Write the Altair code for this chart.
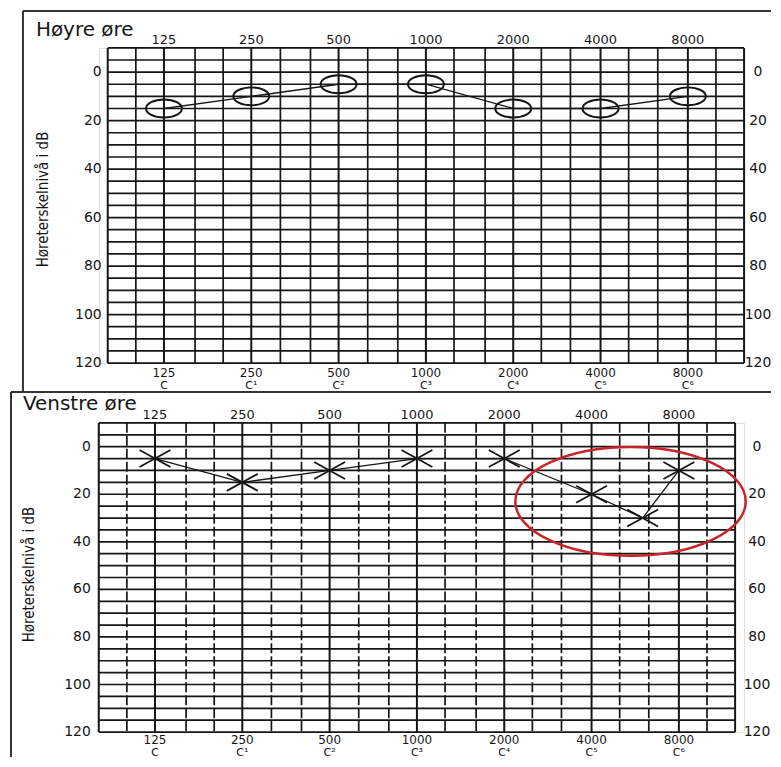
import altair as alt
import pandas as pd

# ---------------- data ----------------
freq_labels = [125, 250, 500, 1000, 2000, 4000, 8000]
freq_text = ["125", "250", "500", "1000", "2000", "4000", "8000"]
note_text = ["C", "C¹", "C²", "C³", "C⁴", "C⁵", "C⁶"]
edge_freqs = [80, 12500]
minor_freqs = [100, 160, 200, 315, 400, 630, 800, 1250, 1600, 2500, 3150, 5000, 6300, 10000]
db_lines = [-10, -5, 0, 5, 10, 15, 20, 25, 30, 35, 40, 45, 50, 55, 60, 65, 70, 75, 80,
            85, 90, 95, 100, 105, 110, 115, 120]
db_labels = [0, 20, 40, 60, 80, 100, 120]

right_freq = [125, 250, 500, 1000, 2000, 4000, 8000]
right_db = [15, 10, 5, 5, 15, 15, 10]

left_freq = [125, 250, 500, 1000, 2000, 4000, 6000, 8000]
left_db = [5, 15, 10, 5, 5, 20, 30, 10]

highlight_freq = [5450]
highlight_db = [23]

INK = "#161616"
NUM_FONT = "DejaVu Sans"
NARROW = "Liberation Sans Narrow, DejaVu Sans Condensed, Liberation Sans, sans-serif"

CIRCLE = "M -1 0 A 1 0.5 0 1 1 1 0 A 1 0.5 0 1 1 -1 0 Z"
XMARK = "M -1 -0.55 L 1 0.55 M -1 0.55 L 1 -0.55"
ELLIPSE = "M -1 0 A 1 0.472 0 1 1 1 0 A 1 0.472 0 1 1 -1 0 Z"

one = alt.Data(values=[{"a": 1}])


def panel(title, freqs, dbs, shape, msize, mwidth, x_range, W, H, pos, dashed, highlight):
    xs = alt.Scale(type="log", domain=[80, 12500], range=x_range)
    ys = alt.Scale(domain=[-10, 120], reverse=True)
    X = lambda f: alt.X(f, type="quantitative", scale=xs, axis=None)
    Y = lambda f: alt.Y(f, type="quantitative", scale=ys, axis=None)

    hdf = pd.DataFrame({"db": db_lines})
    hgrid = alt.Chart(hdf).mark_rule(color=INK, strokeWidth=1.7).encode(
        y=Y("db"),
        x=alt.X(datum=80, type="quantitative", scale=xs, axis=None),
        x2=alt.X2(datum=12500),
    )
    vsolid = alt.Chart(pd.DataFrame({"f": freq_labels + edge_freqs})).mark_rule(
        color=INK, strokeWidth=2).encode(
        x=X("f"),
        y=alt.Y(datum=-10, type="quantitative", scale=ys, axis=None),
        y2=alt.Y2(datum=120),
    )
    minor_kw = dict(color=INK, strokeWidth=1.7)
    if dashed:
        minor_kw["strokeDash"] = [10, 3]
    vminor = alt.Chart(pd.DataFrame({"f": minor_freqs})).mark_rule(**minor_kw).encode(
        x=X("f"),
        y=alt.Y(datum=-10, type="quantitative", scale=ys, axis=None),
        y2=alt.Y2(datum=120),
    )

    ddf = pd.DataFrame({"f": freqs, "db": dbs})
    line = alt.Chart(ddf).mark_line(color=INK, strokeWidth=1.3).encode(x=X("f"), y=Y("db"))
    marks = alt.Chart(ddf).mark_point(
        shape=shape, size=msize, filled=False, stroke=INK, strokeWidth=mwidth, opacity=1
    ).encode(x=X("f"), y=Y("db"))

    fdf = pd.DataFrame({"f": freq_labels, "t": freq_text, "n": note_text})
    top_lab = alt.Chart(fdf).mark_text(font=NUM_FONT, fontSize=13, color=INK, baseline="middle").encode(
        x=X("f"), y=alt.value(-8), text="t:N")
    bot_lab = alt.Chart(fdf).mark_text(font=NUM_FONT, fontSize=12, color=INK, baseline="middle").encode(
        x=X("f"), y=alt.value(H + pos["num_dy"]), text="t:N")
    note_lab = alt.Chart(fdf).mark_text(font=NUM_FONT, fontSize=11, color=INK, baseline="middle").encode(
        x=X("f"), y=alt.value(H + pos["note_dy"]), text="n:N")

    ldf = pd.DataFrame({"db": db_labels})
    left_lab = alt.Chart(ldf).mark_text(font=NUM_FONT, fontSize=14, color=INK, align="right",
                                        baseline="middle").encode(
        x=alt.value(pos["left_lab"]), y=Y("db"), text="db:Q")
    right_lab = alt.Chart(ldf).mark_text(font=NUM_FONT, fontSize=14, color=INK, align="center",
                                         baseline="middle").encode(
        x=alt.value(pos["right_lab"]), y=Y("db"), text="db:Q")

    ttl = alt.Chart(one).mark_text(text=title, font=NUM_FONT, fontSize=20, color=INK, align="left",
                                   baseline="middle").encode(
        x=alt.value(pos["title_x"]), y=alt.value(pos["title_y"]))
    ytl = alt.Chart(one).mark_text(text="Høreterskelnivå i dB", font=NARROW, fontSize=15, color=INK,
                                   angle=270, align="center", baseline="middle").encode(
        x=alt.value(pos["ytitle_x"]), y=alt.value(pos["ytitle_y"]))

    fx = pos["frame_x"]
    frame = [
        alt.Chart(one).mark_rule(color="#333", strokeWidth=2).encode(
            x=alt.value(fx), y=alt.value(pos["frame_top"]), y2=alt.value(pos["frame_bottom"])),
        alt.Chart(one).mark_rule(color="#333", strokeWidth=2).encode(
            x=alt.value(fx), x2=alt.value(pos["frame_right"]), y=alt.value(pos["frame_top"])),
    ]
    if pos.get("frame_close"):
        frame.append(alt.Chart(one).mark_rule(color="#444", strokeWidth=1.6).encode(
            x=alt.value(fx), x2=alt.value(pos["frame_right"]), y=alt.value(pos["frame_bottom"])))

    layers = [hgrid, vsolid, vminor, line, marks, top_lab, bot_lab, note_lab,
              left_lab, right_lab, ttl, ytl] + frame
    if highlight:
        hl = alt.Chart(pd.DataFrame({"f": highlight_freq, "db": highlight_db})).mark_point(
            shape=ELLIPSE, size=53361, filled=False, stroke="#c9232b", strokeWidth=2.5, opacity=1
        ).encode(x=X("f"), y=Y("db"))
        layers.append(hl)
    return alt.layer(*layers).properties(width=W, height=H)


W = 647
H1 = 316
H2 = 310
top = panel("Høyre øre", right_freq, right_db, CIRCLE, 1300, 2, [9, 647], W, H1,
            dict(left_lab=3, right_lab=661, title_x=-63, title_y=-18, ytitle_x=-56, ytitle_y=152,
                 num_dy=10, note_dy=23,
                 frame_x=-76, frame_top=-37, frame_bottom=H1 + 29, frame_right=674, frame_close=True),
            dashed=False, highlight=False)
bottom = panel("Venstre øre", left_freq, left_db, XMARK, 960, 1.8, [0, 638], W, H2,
               dict(left_lab=-8, right_lab=660, title_x=-76, title_y=-19, ytitle_x=-70, ytitle_y=152,
                    num_dy=8, note_dy=21,
                    frame_x=-88, frame_top=-31, frame_bottom=H2 + 25, frame_right=674),
               dashed=True, highlight=True)

chart = alt.vconcat(top, bottom, spacing=60, bounds="flush").resolve_scale(
    x="independent", y="independent"
).properties(
    padding={"left": 1, "top": 0, "right": 0, "bottom": 0}
).configure_view(stroke=None).configure(background="white")

chart.save("out.html", embed_options={"renderer": "svg", "actions": False})
